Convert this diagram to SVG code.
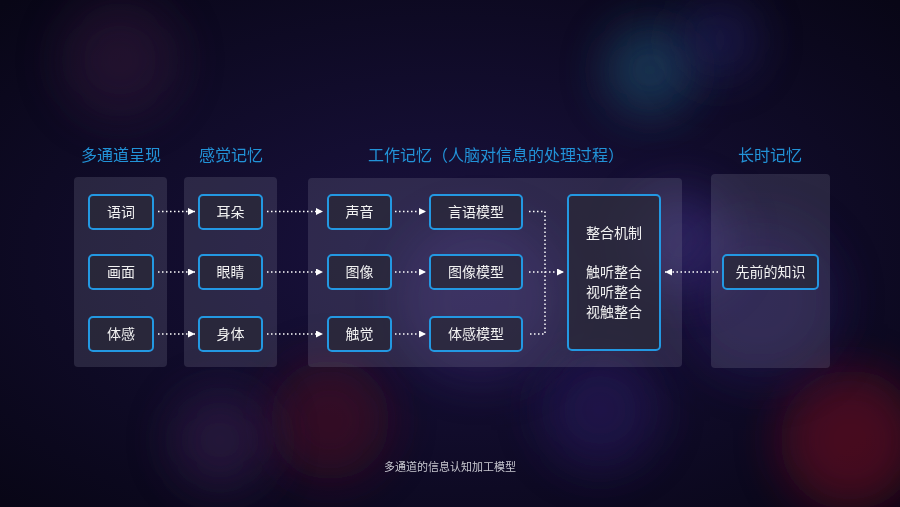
<svg xmlns="http://www.w3.org/2000/svg" width="900" height="507" viewBox="0 0 900 507">
<defs>
<style>
.title{font-family:"Noto Sans CJK SC","Noto Sans",sans-serif;font-size:16px;fill:#2293d8;text-anchor:middle}
.panel{fill:#8a8a9e;fill-opacity:0.22}
.box{fill:#2a2838;fill-opacity:0.75;stroke:#2398e2;stroke-width:2}
.lbl{font-family:"Noto Sans CJK SC","Noto Sans",sans-serif;font-size:14px;fill:#f2f2f2;text-anchor:middle}
.con{stroke:#ffffff;stroke-width:1.5;stroke-dasharray:1.5 2.5;fill:none}
.cap{font-family:"Noto Sans CJK SC","Noto Sans",sans-serif;font-size:11px;fill:#c8c8d0;text-anchor:middle}
</style>
<marker id="ah" viewBox="0 0 10 10" refX="10" refY="5" markerWidth="7" markerHeight="7" markerUnits="userSpaceOnUse" orient="auto"><path d="M0,0L10,5L0,10z" fill="#ffffff"/></marker>
<filter id="blur" x="-100%" y="-100%" width="300%" height="300%"><feGaussianBlur stdDeviation="24"/></filter>
<radialGradient id="bg" cx="0.5" cy="0.5" r="0.7"><stop offset="0" stop-color="#1a1240"/><stop offset="1" stop-color="#080616"/></radialGradient>
</defs>
<rect width="900" height="507" fill="url(#bg)"/>
<g id="bokeh" opacity="0.9">
<circle filter="url(#blur)" cx="650" cy="70" r="45" fill="#1f4a66" opacity="0.8"/>
<circle filter="url(#blur)" cx="720" cy="40" r="40" fill="#2a2a70" opacity="0.5"/>
<circle filter="url(#blur)" cx="120" cy="60" r="60" fill="#3a1f40" opacity="0.5"/>
<circle filter="url(#blur)" cx="330" cy="420" r="60" fill="#4a1020" opacity="0.7"/>
<circle filter="url(#blur)" cx="220" cy="440" r="50" fill="#3a2050" opacity="0.6"/>
<circle filter="url(#blur)" cx="850" cy="440" r="70" fill="#6a1020" opacity="0.7"/>
<circle filter="url(#blur)" cx="600" cy="410" r="60" fill="#2a1a60" opacity="0.6"/>
<circle filter="url(#blur)" cx="760" cy="300" r="80" fill="#2a1f60" opacity="0.5"/>
<circle filter="url(#blur)" cx="480" cy="300" r="80" fill="#3a2a70" opacity="0.5"/>
<circle filter="url(#blur)" cx="680" cy="240" r="50" fill="#4a3a90" opacity="0.5"/>
</g>
<g id="titles">
<text class="title" x="121" y="161">多通道呈现</text>
<text class="title" x="231" y="161">感觉记忆</text>
<text class="title" x="496" y="161">工作记忆（人脑对信息的处理过程）</text>
<text class="title" x="770" y="161">长时记忆</text>
</g>
<g id="panels">
<rect class="panel" x="74" y="177" width="93" height="190" rx="4"/>
<rect class="panel" x="184" y="177" width="93" height="190" rx="4"/>
<rect class="panel" x="308" y="178" width="374" height="189" rx="4"/>
<rect class="panel" x="711" y="174" width="119" height="194" rx="4"/>
</g>
<g id="connectors">
<line class="con" x1="158" y1="211.5" x2="195" y2="211.5" marker-end="url(#ah)"/>
<line class="con" x1="158" y1="272" x2="195" y2="272" marker-end="url(#ah)"/>
<line class="con" x1="158" y1="334" x2="195" y2="334" marker-end="url(#ah)"/>
<line class="con" x1="267" y1="211.5" x2="323" y2="211.5" marker-end="url(#ah)"/>
<line class="con" x1="267" y1="272" x2="323" y2="272" marker-end="url(#ah)"/>
<line class="con" x1="267" y1="334" x2="323" y2="334" marker-end="url(#ah)"/>
<line class="con" x1="395" y1="211.5" x2="426" y2="211.5" marker-end="url(#ah)"/>
<line class="con" x1="395" y1="272" x2="426" y2="272" marker-end="url(#ah)"/>
<line class="con" x1="395" y1="334" x2="426" y2="334" marker-end="url(#ah)"/>
<polyline class="con" points="529,211.5 545,211.5 545,334 529,334"/>
<line class="con" x1="529" y1="272" x2="564" y2="272" marker-end="url(#ah)"/>
<line class="con" x1="718" y1="272" x2="665" y2="272" marker-end="url(#ah)"/>
</g>
<g id="n-yuci"><rect class="box" x="89" y="195" width="64" height="34" rx="4"/><text class="lbl" x="121" y="217">语词</text></g>
<g id="n-huamian"><rect class="box" x="89" y="255" width="64" height="34" rx="4"/><text class="lbl" x="121" y="277">画面</text></g>
<g id="n-tigan"><rect class="box" x="89" y="317" width="64" height="34" rx="4"/><text class="lbl" x="121" y="339">体感</text></g>
<g id="n-erduo"><rect class="box" x="199" y="195" width="63" height="34" rx="4"/><text class="lbl" x="230.5" y="217">耳朵</text></g>
<g id="n-yanjing"><rect class="box" x="199" y="255" width="63" height="34" rx="4"/><text class="lbl" x="230.5" y="277">眼睛</text></g>
<g id="n-shenti"><rect class="box" x="199" y="317" width="63" height="34" rx="4"/><text class="lbl" x="230.5" y="339">身体</text></g>
<g id="n-shengyin"><rect class="box" x="328" y="195" width="63" height="34" rx="4"/><text class="lbl" x="359.5" y="217">声音</text></g>
<g id="n-tuxiang"><rect class="box" x="328" y="255" width="63" height="34" rx="4"/><text class="lbl" x="359.5" y="277">图像</text></g>
<g id="n-chujue"><rect class="box" x="328" y="317" width="63" height="34" rx="4"/><text class="lbl" x="359.5" y="339">触觉</text></g>
<g id="n-yanyu"><rect class="box" x="430" y="195" width="92" height="34" rx="4"/><text class="lbl" x="476" y="217">言语模型</text></g>
<g id="n-tuxiangmx"><rect class="box" x="430" y="255" width="92" height="34" rx="4"/><text class="lbl" x="476" y="277">图像模型</text></g>
<g id="n-tiganmx"><rect class="box" x="430" y="317" width="92" height="34" rx="4"/><text class="lbl" x="476" y="339">体感模型</text></g>
<g id="n-zhenghe"><rect class="box" x="568" y="195" width="92" height="155" rx="4"/>
<text class="lbl" x="614" y="238">整合机制</text>
<text class="lbl" x="614" y="277">触听整合</text>
<text class="lbl" x="614" y="297">视听整合</text>
<text class="lbl" x="614" y="317">视触整合</text></g>
<g id="n-zhishi"><rect class="box" x="723" y="255" width="95" height="34" rx="4"/><text class="lbl" x="770.5" y="277">先前的知识</text></g>
<text class="cap" x="450" y="471">多通道的信息认知加工模型</text>
</svg>
